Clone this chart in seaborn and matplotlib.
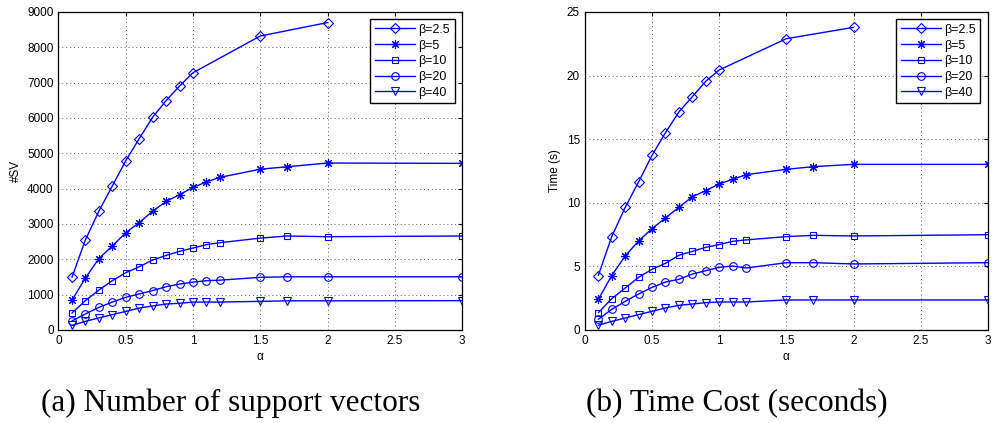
import numpy as np
import pandas as pd
import matplotlib
matplotlib.use("Agg")
import matplotlib.pyplot as plt
import seaborn as sns

# alpha values for each curve
alpha_full = [0.1, 0.2, 0.3, 0.4, 0.5, 0.6, 0.7, 0.8, 0.9, 1.0, 1.1, 1.2, 1.5, 1.7, 2, 3]
alpha_b25 = [0.1, 0.2, 0.3, 0.4, 0.5, 0.6, 0.7, 0.8, 0.9, 1.0, 1.5, 2]

betas = ["β=2.5", "β=5", "β=10", "β=20", "β=40"]

# (a) number of support vectors
sv_b25 = [1490, 2550, 3360, 4075, 4790, 5415, 6020, 6490, 6905, 7280, 8320, 8700]
sv_b5 = [840, 1470, 2020, 2380, 2750, 3040, 3360, 3640, 3830, 4035, 4190, 4320, 4550, 4620, 4725, 4715]
sv_b10 = [480, 830, 1130, 1395, 1620, 1790, 1980, 2110, 2225, 2320, 2415, 2470, 2600, 2660, 2640, 2660]
sv_b20 = [255, 455, 640, 790, 925, 1020, 1115, 1225, 1300, 1355, 1395, 1410, 1490, 1505, 1505, 1505]
sv_b40 = [130, 245, 340, 435, 525, 620, 680, 735, 755, 790, 790, 790, 810, 825, 825, 830]

# (b) time cost in seconds
t_b25 = [4.28, 7.34, 9.64, 11.64, 13.73, 15.51, 17.14, 18.34, 19.55, 20.44, 22.90, 23.79]
t_b5 = [2.40, 4.28, 5.82, 7.00, 7.97, 8.81, 9.64, 10.48, 10.95, 11.48, 11.84, 12.21, 12.63, 12.84, 13.02, 13.02]
t_b10 = [1.36, 2.46, 3.30, 4.14, 4.77, 5.24, 5.87, 6.18, 6.50, 6.71, 6.97, 7.08, 7.34, 7.44, 7.39, 7.49]
t_b20 = [0.84, 1.62, 2.25, 2.83, 3.35, 3.77, 3.98, 4.40, 4.66, 4.93, 5.03, 4.87, 5.29, 5.29, 5.19, 5.29]
t_b40 = [0.37, 0.68, 0.94, 1.21, 1.47, 1.73, 1.94, 2.04, 2.15, 2.20, 2.20, 2.20, 2.36, 2.36, 2.36, 2.36]

x_ticks = [0, 0.5, 1, 1.5, 2, 2.5, 3]

sns.set_style("white")
plt.rcParams["font.family"] = ["Liberation Sans", "DejaVu Sans"]
plt.rcParams["xtick.direction"] = "in"
plt.rcParams["ytick.direction"] = "in"
plt.rcParams["text.color"] = "black"
plt.rcParams["axes.labelcolor"] = "black"
plt.rcParams["xtick.color"] = "black"
plt.rcParams["ytick.color"] = "black"

markers = ["D", (8, 2, 0), "s", "o", "v"]
msizes = [5.5, 6.5, 5, 5.5, 6]
x_lists = [alpha_b25, alpha_full, alpha_full, alpha_full, alpha_full]


def draw(ax, series, ymax, yticks, ylabel):
    for lab, xs, ys, m, ms in zip(betas, x_lists, series, markers, msizes):
        df = pd.DataFrame({"alpha": xs, "val": ys})
        sns.lineplot(data=df, x="alpha", y="val", ax=ax, color="blue", lw=1,
                     marker=m, markersize=ms, markerfacecolor="none",
                     markeredgecolor="blue", markeredgewidth=0.8, label=lab)
    ax.set_xlim(0, 3)
    ax.set_ylim(0, ymax)
    ax.set_xticks(x_ticks)
    ax.set_xticklabels(["0", "0.5", "1", "1.5", "2", "2.5", "3"])
    ax.set_yticks(yticks)
    ax.tick_params(labelsize=8.5, length=3, top=True, right=True, width=0.8)
    ax.grid(True, color="0.35", linestyle=(0, (1, 3)), lw=0.7)
    for s in ax.spines.values():
        s.set_color("black")
        s.set_linewidth(0.9)
    ax.set_xlabel("α", fontsize=8.5, labelpad=3)
    ax.set_ylabel(ylabel, fontsize=8.5, labelpad=4)
    leg = ax.legend(loc="upper right", fontsize=9, frameon=True, fancybox=False,
                    edgecolor="black", framealpha=1, handlelength=3.2,
                    borderpad=0.35, labelspacing=0.3, borderaxespad=0.6,
                    handletextpad=0.3)
    leg.get_frame().set_linewidth(1.0)


fig = plt.figure(figsize=(9.93, 4.23), dpi=100)
ax1 = fig.add_axes([0.0589, 0.2199, 0.4064, 0.7518])
ax2 = fig.add_axes([0.589, 0.2199, 0.4058, 0.7518])

draw(ax1, [sv_b25, sv_b5, sv_b10, sv_b20, sv_b40], 9000,
     np.arange(0, 9001, 1000), "#SV")
draw(ax2, [t_b25, t_b5, t_b10, t_b20, t_b40], 25,
     np.arange(0, 26, 5), "Time (s)")

fig.text(0.232, 0.047, "(a) Number of support vectors", ha="center", va="center",
         fontsize=22.5, color="black", family=["Liberation Serif", "DejaVu Serif"])
fig.text(0.742, 0.047, "(b) Time Cost (seconds)", ha="center", va="center",
         fontsize=22.5, color="black", family=["Liberation Serif", "DejaVu Serif"])

fig.savefig("out.png", dpi=100)
